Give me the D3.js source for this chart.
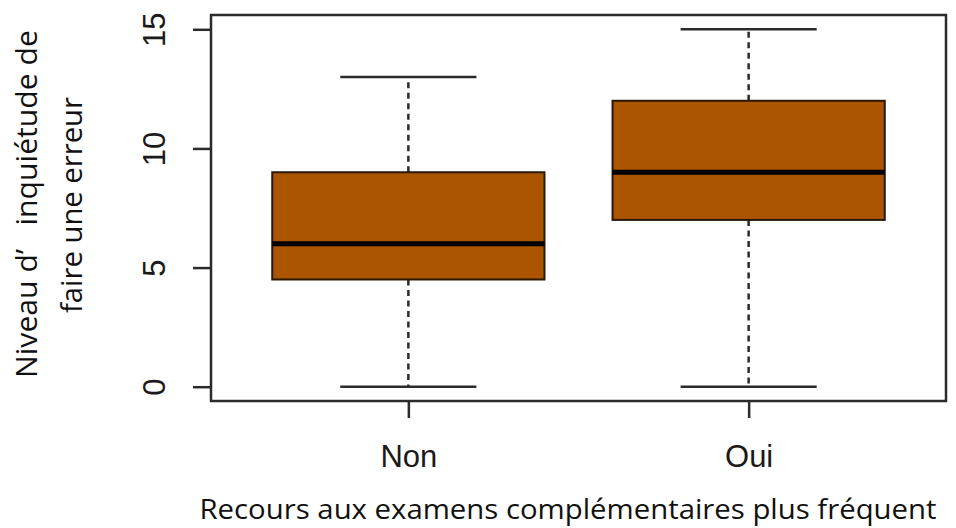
<!DOCTYPE html>
<html><head><meta charset="utf-8">
<script src="https://cdn.jsdelivr.net/npm/d3@7"></script>
<style>body{margin:0;background:#fff}</style>
</head><body>
<svg id="c" width="956" height="528"></svg>
<script>
const categories = ["Non", "Oui"];
const mins = [0, 0];
const q1s = [4.5, 7];
const medians = [6, 9];
const q3s = [9, 12];
const maxs = [13, 15];
const yTicks = [0, 5, 10, 15];
const yTitle = ["Niveau d’   inquiétude de", "faire une erreur"];
const xTitle = "Recours aux examens complémentaires plus fréquent";

const data = categories.map((c, i) => ({c, i, min: mins[i], q1: q1s[i], med: medians[i], q3: q3s[i], max: maxs[i]}));

const svg = d3.select("#c");
const L = 211, R = 946, T = 15, B = 401;
const x = d3.scaleLinear().domain([0.42, 2.58]).range([L, R]);
const y = d3.scaleLinear().domain([-0.6, 15.6]).range([B, T]);
const bw = 0.8, cw = 0.4;
const ink = "#2b2b2b";

const g = svg.append("g");
data.forEach(d => {
  const cx = x(d.i + 1);
  g.append("line").attr("x1", cx).attr("x2", cx).attr("y1", y(d.q3)).attr("y2", y(d.max))
    .attr("stroke", ink).attr("stroke-width", 2.5).attr("stroke-dasharray", "6,4.5");
  g.append("line").attr("x1", cx).attr("x2", cx).attr("y1", y(d.q1)).attr("y2", y(d.min))
    .attr("stroke", ink).attr("stroke-width", 2.5).attr("stroke-dasharray", "6,4.5");
  [d.min, d.max].forEach(v => {
    g.append("line").attr("x1", x(d.i + 1 - cw / 2)).attr("x2", x(d.i + 1 + cw / 2))
      .attr("y1", y(v)).attr("y2", y(v)).attr("stroke", ink).attr("stroke-width", 2.5);
  });
  g.append("rect").attr("x", x(d.i + 1 - bw / 2)).attr("width", x(d.i + 1 + bw / 2) - x(d.i + 1 - bw / 2))
    .attr("y", y(d.q3)).attr("height", y(d.q1) - y(d.q3))
    .attr("fill", "#ab5500").attr("stroke", "#2a1800").attr("stroke-width", 2);
  g.append("line").attr("x1", x(d.i + 1 - bw / 2)).attr("x2", x(d.i + 1 + bw / 2))
    .attr("y1", y(d.med)).attr("y2", y(d.med)).attr("stroke", "#000").attr("stroke-width", 5);
});

svg.append("rect").attr("x", L).attr("y", T).attr("width", R - L).attr("height", B - T)
  .attr("fill", "none").attr("stroke", ink).attr("stroke-width", 2.5);

const ya = svg.append("g").attr("transform", `translate(${L},0)`)
  .call(d3.axisLeft(y).tickValues(yTicks).tickSize(18).tickFormat(d3.format("d")));
ya.select(".domain").remove();
ya.selectAll(".tick line").attr("stroke", ink).attr("stroke-width", 2.5);
ya.selectAll(".tick text").attr("x", null).attr("dy", null)
  .attr("transform", "translate(-46,0) rotate(-90)")
  .attr("text-anchor", "middle").attr("fill", "#1a1a1a")
  .style("font-family", "'Liberation Sans', Arial, sans-serif").style("font-size", "31px");

const xa = svg.append("g").attr("transform", `translate(0,${B})`)
  .call(d3.axisBottom(x).tickValues([1, 2]).tickSize(17).tickFormat(d => categories[d - 1]));
xa.select(".domain").remove();
xa.selectAll(".tick line").attr("stroke", ink).attr("stroke-width", 2.5);
xa.selectAll(".tick text").attr("y", 66).attr("dy", null).attr("fill", "#1a1a1a")
  .style("font-family", "'Liberation Sans', Arial, sans-serif").style("font-size", "31px");

const tf = "'Open Sans', 'Noto Sans', sans-serif";
svg.append("text").attr("transform", "translate(37,204) rotate(-90)").attr("text-anchor", "middle")
  .attr("textLength", 348).attr("lengthAdjust", "spacingAndGlyphs").style("white-space", "pre")
  .style("font-family", tf).style("font-size", "30px").attr("fill", "#111").text(yTitle[0]);
svg.append("text").attr("transform", "translate(82,205) rotate(-90)").attr("text-anchor", "middle")
  .attr("textLength", 216).attr("lengthAdjust", "spacingAndGlyphs")
  .style("font-family", tf).style("font-size", "30px").attr("fill", "#111").text(yTitle[1]);
svg.append("text").attr("x", 568).attr("y", 519).attr("text-anchor", "middle")
  .attr("textLength", 737).attr("lengthAdjust", "spacingAndGlyphs")
  .style("font-family", tf).style("font-size", "28px").attr("fill", "#111").text(xTitle);
</script>
</body></html>
